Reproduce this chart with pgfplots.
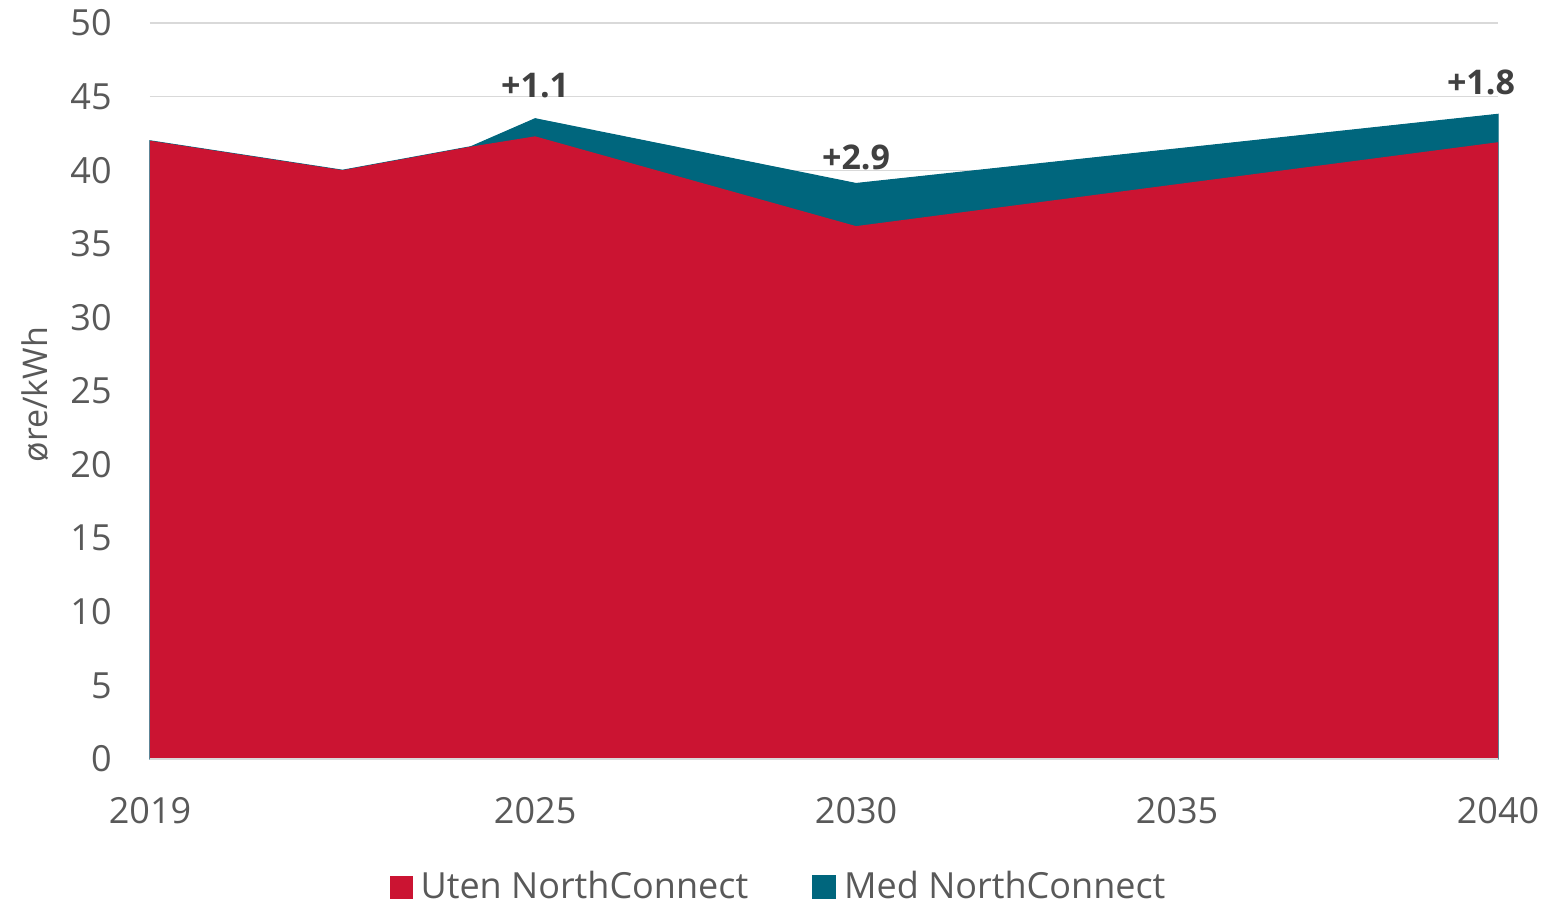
\documentclass[border=0pt]{standalone}
\usepackage{pgfplots}
\pgfplotsset{compat=1.18}
\usepackage{fontspec}
\setmainfont{Open Sans}
\definecolor{redA}{HTML}{CB1432}
\definecolor{tealA}{HTML}{00667D}
\definecolor{tickgray}{HTML}{595959}
\definecolor{gridgray}{HTML}{D9D9D9}
\definecolor{lblgray}{HTML}{404040}
\begin{document}
\fontsize{18}{21}\selectfont
\begin{tikzpicture}
\path[use as bounding box] (-75pt,-73pt) rectangle (698.5pt,379.5pt);
\begin{axis}[
  scale only axis,
  width=674pt, height=368pt,
  at={(0,0)}, anchor=south west,
  xmin=2019, xmax=2040, ymin=0, ymax=50,
  xtick={2019,2025,2030,2035,2040},
  ytick={0,5,...,50},
  xticklabel style={/pgf/number format/1000 sep={}, yshift=-13pt},
  yticklabel style={xshift=-13pt},
  /pgf/number format/assume math mode=true,
  tick label style={color=tickgray, font=\fontsize{18}{21}\selectfont},
  major tick length=0pt,
  axis line style={draw=none},
  ymajorgrids, grid style={gridgray, line width=0.6pt},
  ylabel={øre/kWh},
  every axis y label/.style={at={(axis description cs:-0.085,0.495)}, rotate=90, anchor=center,
     color=tickgray, font=\fontsize{17}{20}\selectfont},
  legend columns=2,
  reverse legend,
  legend style={at={(axis description cs:0.467,-0.174)}, anchor=center, draw=none, fill=none,
    font=\fontsize{18}{21}\selectfont, text=tickgray,
    /tikz/every even column/.append style={column sep=30pt},
    /tikz/every odd column/.append style={column sep=2pt}},
  legend image code/.code={\fill[#1] (0pt,-5.75pt) rectangle (11.5pt,5.75pt);},
  clip=false,
]
\addplot[fill=tealA, draw=tealA, line width=0.5pt] coordinates {
 (2019,42.0) (2022,40.0) (2024,41.6) (2025,43.5) (2030,39.1) (2040,43.8)
} \closedcycle;
\addlegendentry{Med NorthConnect}
\addplot[fill=redA, draw=none] coordinates {
 (2019,42.0) (2022,40.0) (2024,41.6) (2025,42.3) (2030,36.2) (2040,41.9)
} \closedcycle;
\addlegendentry{Uten NorthConnect}
\draw[gridgray, line width=0.8pt] (axis cs:2019,0) -- (axis cs:2040,0);
\node[font=\bfseries\fontsize{17}{20}\selectfont, text=lblgray, anchor=base] at (axis cs:2025,43.5) [yshift=10.5pt] {+1.1};
\node[font=\bfseries\fontsize{17}{20}\selectfont, text=lblgray, anchor=base] at (axis cs:2030,39.1) [yshift=7pt] {+2.9};
\node[font=\bfseries\fontsize{17}{20}\selectfont, text=lblgray, anchor=base] at (axis cs:2040,43.8) [yshift=10pt, xshift=-8.5pt] {+1.8};
\end{axis}
\end{tikzpicture}
\end{document}
